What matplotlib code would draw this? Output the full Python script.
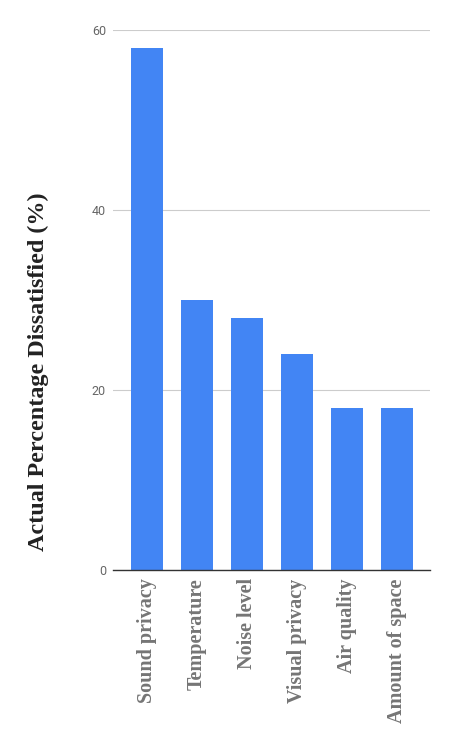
import matplotlib
matplotlib.use("Agg")
import matplotlib.pyplot as plt

categories = ["Sound privacy", "Temperature", "Noise level", "Visual privacy", "Air quality", "Amount of space"]
values = [58, 30, 28, 24, 18, 18]
yticks = [0, 20, 40, 60]

W, H = 453, 746
fig = plt.figure(figsize=(W / 100, H / 100), dpi=100)
ax = fig.add_axes([113 / W, 1 - 570 / H, (430 - 113) / W, (570 - 30) / H])

x = list(range(len(categories)))
ax.bar(x, values, width=0.64, color="#4285F4", zorder=3)
ax.set_xlim(-0.68, 5.66)
ax.set_ylim(0, 60)
ax.set_yticks(yticks)
ax.set_yticklabels([str(v) for v in yticks], family="Roboto", fontsize=9, color="#666666")
ax.yaxis.grid(True, color="#cccccc", linewidth=0.8, zorder=0)
ax.set_xticks(x)
ax.set_xticklabels(categories, rotation=90, family="Liberation Serif", fontweight="bold",
                   fontsize=14.5, color="#757575")
ax.tick_params(axis="both", length=0)
ax.tick_params(axis="y", pad=5)
ax.tick_params(axis="x", pad=6)
for s in ["top", "right", "left"]:
    ax.spines[s].set_visible(False)
ax.spines["bottom"].set_color("#333333")
ax.spines["bottom"].set_linewidth(1.0)
ax.spines["bottom"].set_zorder(4)
fig.text(38 / W, 1 - 372 / H, "Actual Percentage Dissatisfied (%)", rotation=90,
         ha="center", va="center", family="Liberation Serif", fontweight="bold",
         fontsize=17.4, color="#222222")
fig.savefig("out.png", dpi=100)
